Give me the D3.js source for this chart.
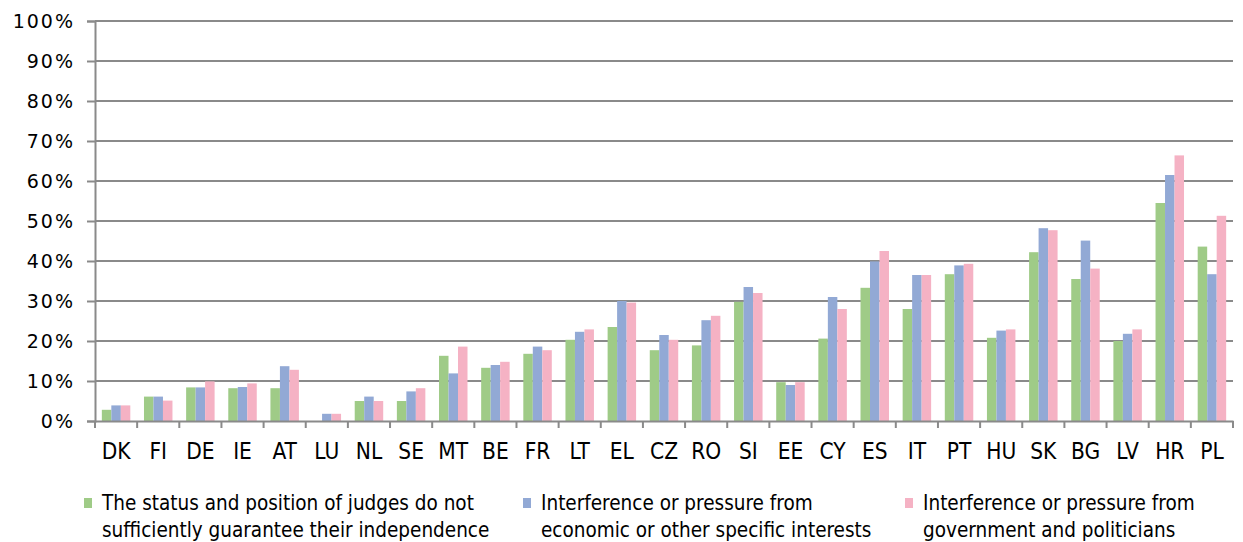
<!DOCTYPE html>
<html>
<head>
<meta charset="utf-8">
<script src="https://cdn.jsdelivr.net/npm/d3@7"></script>
<style>
  html, body { margin: 0; padding: 0; background: #fff; }
  svg { display: block; }
  text { font-family: "DejaVu Sans", Verdana, sans-serif; fill: #000; }
  .cond { font-family: "DejaVu Sans Condensed", "DejaVu Sans", sans-serif; font-stretch: condensed; }
</style>
</head>
<body>
<svg id="chart" width="1243" height="542"></svg>
<script>
const categories = ["DK","FI","DE","IE","AT","LU","NL","SE","MT","BE","FR","LT","EL","CZ","RO","SI","EE","CY","ES","IT","PT","HU","SK","BG","LV","HR","PL"];
const statusJudges = [2.8,6.1,8.4,8.2,8.2,0,5.0,5.0,16.3,13.3,16.8,20.3,23.5,17.7,18.9,29.8,9.7,20.6,33.3,28.0,36.7,20.8,42.2,35.5,20.0,54.5,43.6];
const economicInterests = [3.9,6.1,8.4,8.5,13.7,1.8,6.1,7.4,11.9,14.0,18.6,22.3,30.0,21.5,25.2,33.5,9.0,31.0,39.9,36.5,38.9,22.6,48.2,45.1,21.8,61.5,36.7];
const governmentPoliticians = [3.9,5.1,9.9,9.4,12.8,1.8,5.0,8.2,18.6,14.8,17.7,22.9,29.6,20.3,26.3,32.0,9.7,28.0,42.5,36.5,39.3,22.9,47.7,38.1,22.9,66.4,51.3];
const seriesNames = [
  ["The status and position of judges do not", "sufficiently guarantee their independence"],
  ["Interference or pressure from", "economic or other specific interests"],
  ["Interference or pressure from", "government and politicians"]
];
const seriesColors = ["#9fcb87", "#92a9d5", "#f5b2c4"];
const yTicks = [0,10,20,30,40,50,60,70,80,90,100];

(function () {
const series = [statusJudges, economicInterests, governmentPoliticians];
const svg = d3.select("#chart");
const mLeft = 95, mRight = 1233, mTop = 21, mBottom = 421;

const x = d3.scaleBand().domain(categories).range([mLeft, mRight]).paddingInner(0).paddingOuter(0);
const xSub = d3.scaleBand().domain([0,1,2]).range([0, x.bandwidth()]).paddingInner(0).paddingOuter(0.72);
const y = d3.scaleLinear().domain([0, 100]).range([mBottom, mTop]);

// gridlines
svg.append("g").selectAll("line").data(yTicks.filter(d => d > 0)).join("line")
  .attr("x1", mLeft).attr("x2", mRight)
  .attr("y1", d => y(d)).attr("y2", d => y(d))
  .attr("stroke", "#8a8a8a").attr("stroke-width", 2);

// bars
const groups = svg.append("g").selectAll("g").data(series).join("g")
  .attr("fill", (d, i) => seriesColors[i]);
groups.each(function(vals, si) {
  d3.select(this).selectAll("rect").data(vals).join("rect")
    .attr("x", (d, i) => x(categories[i]) + xSub(si))
    .attr("width", xSub.bandwidth())
    .attr("y", d => y(d))
    .attr("height", d => y(0) - y(d));
});

// y axis
const yAxis = d3.axisLeft(y).tickValues(yTicks).tickFormat(d => d + "%").tickSize(8).tickPadding(12);
const yg = svg.append("g").attr("transform", `translate(${mLeft},0)`).call(yAxis);
yg.select(".domain").attr("stroke", "#8a8a8a").attr("stroke-width", 2);
yg.selectAll(".tick line").attr("stroke", "#8a8a8a").attr("stroke-width", 2);
yg.selectAll(".tick text").attr("font-size", 19).attr("font-family", "DejaVu Sans")
  .attr("letter-spacing", "2px").attr("fill", "#000");

// x axis
const xAxis = d3.axisBottom(x).tickSize(0).tickPadding(22);
const xg = svg.append("g").attr("transform", `translate(0,${mBottom})`).call(xAxis);
xg.select(".domain").attr("stroke", "#8a8a8a").attr("stroke-width", 2);
xg.selectAll(".tick text").attr("class", "cond").attr("font-size", 22.5)
  .attr("font-family", null).attr("fill", "#000")
  .attr("dy", null).attr("y", 38);
const bounds = categories.map(c => x(c)).concat([mRight]);
xg.append("g").selectAll("line").data(bounds).join("line")
  .attr("x1", d => d).attr("x2", d => d).attr("y1", 0).attr("y2", 7)
  .attr("stroke", "#8a8a8a").attr("stroke-width", 2);

// legend
const legendX = [84, 523, 905];
const lg = svg.append("g").selectAll("g").data(seriesNames).join("g")
  .attr("transform", (d, i) => `translate(${legendX[i]},0)`);
lg.append("rect").attr("x", 0).attr("y", 498).attr("width", 8).attr("height", 10)
  .attr("fill", (d, i) => seriesColors[i]);
lg.append("text").attr("class", "cond").attr("x", 18).attr("y", 510).attr("font-size", 20.5).text(d => d[0]);
lg.append("text").attr("class", "cond").attr("x", 18).attr("y", 537).attr("font-size", 20.5).text(d => d[1]);
})();
</script>
</body>
</html>
